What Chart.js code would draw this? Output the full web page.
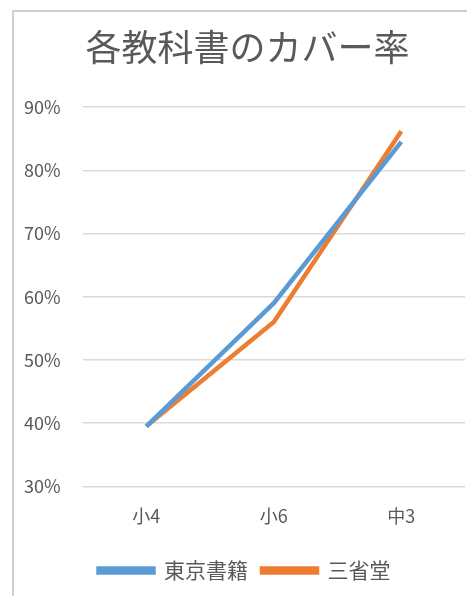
<!DOCTYPE html>
<html>
<head>
<meta charset="utf-8">
<script src="https://cdn.jsdelivr.net/npm/chart.js@4.4.0/dist/chart.umd.min.js"></script>
<style>
  html, body { margin: 0; padding: 0; background: #fff; }
  #frame {
    position: absolute; left: 12px; top: 10px; width: 470px; height: 600px;
    border-left: 2px solid #d0d0d0; border-top: 2px solid #d0d0d0;
  }
  #wrap { position: absolute; left: 0; top: 0; width: 467px; height: 596px; }
</style>
</head>
<body>
<div id="frame"></div>
<div id="wrap"><canvas id="chart"></canvas></div>
<script>
var grades = ['小4', '小6', '中3'];
var tokyoShoseki = [0.395, 0.59, 0.845];
var sanseido = [0.395, 0.56, 0.862];

// title and legend sit a little right of centre in the original (frame is cropped)
var centreShift = {
  id: 'centreShift',
  afterLayout: function(chart) {
    chart.legend.left += 11;
    chart.legend.right += 11;
    chart.titleBlock.left += 14;
    chart.titleBlock.right += 14;
  }
};

function init() {
  var ctx = document.getElementById('chart');
  var font = "'Noto Sans CJK JP', 'Noto Sans', sans-serif";

  var data = {
    labels: grades,
    datasets: [{
      label: '東京書籍',
      data: tokyoShoseki,
      borderColor: '#5B9BD5',
      backgroundColor: '#5B9BD5',
      borderWidth: 4.5,
      pointRadius: 0,
      tension: 0
    }, {
      label: '三省堂',
      data: sanseido,
      borderColor: '#ED7D31',
      backgroundColor: '#ED7D31',
      borderWidth: 4.5,
      pointRadius: 0,
      tension: 0
    }]
  };

  new Chart(ctx, {
    type: 'line',
    data: data,
    plugins: [centreShift],
    options: {
      responsive: true,
      maintainAspectRatio: false,
      animation: false,
      layout: { padding: { left: 2, right: 2, top: 26, bottom: 5 } },
      plugins: {
        title: {
          display: true,
          text: '各教科書のカバー率',
          color: '#595959',
          font: { family: font, size: 36, weight: 'normal' },
          padding: { top: 0, bottom: 38 }
        },
        legend: {
          position: 'bottom',
          labels: {
            color: '#595959',
            font: { family: font, size: 21 },
            boxWidth: 55,
            boxHeight: 4,
            padding: 14
          }
        },
        tooltip: { enabled: false }
      },
      scales: {
        y: {
          min: 0.3,
          max: 0.9,
          ticks: {
            stepSize: 0.1,
            color: '#595959',
            padding: 22,
            font: { family: font, size: 18 },
            callback: function(v) { return Math.round(v * 100) + '%'; }
          },
          grid: { color: '#d9d9d9', lineWidth: 1.5, drawTicks: false },
          border: { display: false }
        },
        x: {
          offset: true,
          ticks: {
            color: '#595959',
            padding: 19,
            font: { family: font, size: 18 }
          },
          grid: { display: false, drawTicks: false },
          border: { display: false }
        }
      }
    }
  });
}

init();
</script>
</body>
</html>
